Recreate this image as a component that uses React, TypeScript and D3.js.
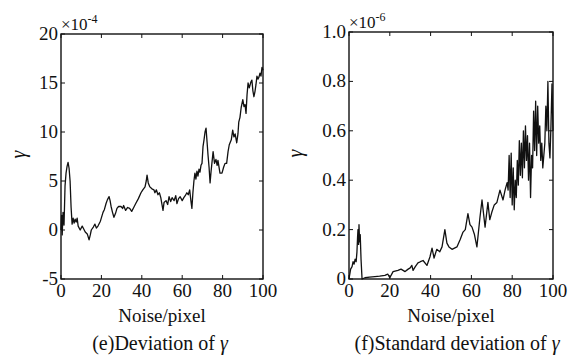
import React from 'react';
import * as d3 from 'd3';

// (e) deviation of gamma, values in units of 1e-4
const devX = [0, 0.3, 0.6, 1, 1.5, 2, 2.5, 3, 3.5, 4, 4.5, 5, 5.5, 6, 6.5, 7, 7.5, 8, 8.5, 9.5, 10.5, 11, 12, 13, 13.9, 14.5, 15, 16, 16.8, 17.5, 18.3, 19.5, 20.8, 21.5, 22.3, 23, 23.8, 24.3, 24.8, 25.5, 26.2, 27, 27.7, 28.5, 29.7, 30.5, 31, 32, 33, 34, 35, 36, 37, 38.3, 39.6, 40.5, 41.6, 42.2, 42.6, 43.2, 44, 45, 46, 46.5, 47.2, 48, 48.7, 49.4, 50, 50.5, 51, 52, 52.8, 53.5, 54.3, 55, 56, 56.8, 57.4, 58.2, 59, 60, 60.8, 61.5, 62.3, 63, 63.7, 64.3, 64.8, 65.3, 65.8, 66.3, 66.8, 67.3, 67.8, 68.3, 68.8, 69.3, 69.8, 70.3, 70.8, 71.3, 71.8, 72.3, 72.8, 73.3, 73.8, 74.3, 74.7, 75.3, 76, 76.7, 77.3, 77.7, 78.7, 79.7, 80.5, 81.2, 82, 82.7, 83.3, 83.7, 84.3, 85, 85.6, 86.2, 87, 87.6, 88, 88.6, 89.2, 90, 90.6, 91.1, 91.6, 92.1, 92.6, 93.2, 94, 94.5, 95, 95.5, 96, 96.5, 97, 97.5, 98, 98.5, 99, 99.5, 100];
const devY = [0, 1.5, -0.5, 1.8, 0.5, 4.5, 5.8, 6.5, 6.9, 6.3, 5.0, 2.3, 0.6, 1.2, 0.7, 1.1, 0.8, 1.2, 0.4, 0.0, 0.4, 0.2, -0.2, -0.4, -1.0, -0.5, 0, 0.3, 0.6, 0.2, 0.4, 0.9, 1.8, 2.1, 2.7, 3.1, 3.4, 3.0, 2.4, 1.8, 1.3, 1.7, 2.2, 2.4, 2.4, 2.2, 2.5, 2.0, 2.3, 2.2, 1.9, 2.3, 2.7, 3.2, 3.8, 4.1, 4.4, 5.0, 5.6, 4.8, 4.4, 4.2, 4.1, 3.8, 4.1, 3.6, 3.8, 3.3, 2.6, 2.0, 2.8, 3.0, 2.6, 3.4, 2.9, 3.3, 3.0, 3.5, 2.7, 3.2, 3.4, 3.0, 3.3, 3.5, 3.8, 3.6, 4.1, 3.0, 2.2, 3.8, 5.0, 5.8, 5.2, 6.0, 5.5, 6.2, 5.9, 6.6, 6.8, 8.5, 9.2, 10.0, 10.4, 9.0, 7.6, 6.4, 4.8, 6.0, 6.8, 8.0, 6.8, 7.2, 6.6, 7.1, 5.8, 5.8, 6.4, 6.8, 6.8, 8.0, 8.7, 8.9, 9.2, 10.2, 9.5, 9.8, 8.9, 9.8, 11.0, 11.5, 12.5, 13.3, 12.6, 12.8, 11.9, 13.8, 15.0, 14.5, 15.1, 15.3, 14.2, 13.6, 14.1, 14.8, 15.7, 15.4, 15.6, 16.0, 15.7, 16.6, 16.3];

// (f) standard deviation of gamma, values in units of 1e-6
const stdX = [0, 0.8, 1.5, 2, 2.5, 3, 3.5, 3.9, 4.2, 4.4, 4.7, 4.9, 5.2, 5.5, 5.9, 6.4, 7.8, 10, 12.7, 15, 17.6, 19, 20, 21.6, 24, 25.5, 27.5, 29, 30, 30.8, 31.4, 32.5, 33.8, 35, 36.3, 38.2, 39.7, 40.7, 41.7, 43, 44.5, 45.6, 47, 48, 49, 50.5, 52.9, 54.5, 55.9, 57, 58.3, 59.3, 60.3, 61.5, 62.7, 64.2, 65.2, 66.7, 68.1, 69, 70, 71.2, 72.5, 74, 75.5, 76.5, 77.5, 78, 78.5, 79, 79.5, 80, 80.5, 81, 81.5, 82, 82.5, 83, 83.5, 84, 84.5, 85, 85.5, 86, 86.5, 87, 87.5, 88, 88.5, 89, 89.5, 90, 90.5, 91, 91.5, 92, 92.5, 93, 93.5, 94, 94.5, 95, 95.5, 96, 96.5, 97, 97.5, 98, 98.5, 99, 99.5, 100];
const stdY = [0, 0.04, 0.05, 0.07, 0.06, 0.08, 0.07, 0.11, 0.17, 0.2, 0.14, 0.22, 0.15, 0.18, 0.08, 0, 0.005, 0.008, 0.01, 0.012, 0.015, 0.02, 0.005, 0.03, 0.035, 0.04, 0.03, 0.04, 0.045, 0.055, 0.035, 0.05, 0.065, 0.07, 0.075, 0.055, 0.09, 0.125, 0.085, 0.12, 0.11, 0.13, 0.2, 0.145, 0.13, 0.12, 0.13, 0.16, 0.19, 0.2, 0.265, 0.22, 0.21, 0.18, 0.13, 0.25, 0.32, 0.21, 0.31, 0.24, 0.27, 0.3, 0.31, 0.36, 0.32, 0.36, 0.39, 0.36, 0.5, 0.33, 0.51, 0.3, 0.45, 0.28, 0.4, 0.33, 0.48, 0.38, 0.56, 0.42, 0.55, 0.41, 0.6, 0.45, 0.62, 0.48, 0.58, 0.4, 0.55, 0.33, 0.5, 0.45, 0.68, 0.52, 0.72, 0.5, 0.7, 0.55, 0.62, 0.48, 0.55, 0.45, 0.5, 0.55, 0.7, 0.6, 0.8, 0.55, 0.49, 0.62, 0.79, 0.6];

const xTicks = [0, 20, 40, 60, 80, 100];
const devTicks = [-5, 0, 5, 10, 15, 20];
const stdTicks = [0, 0.2, 0.4, 0.6, 0.8, 1.0];

const font = '"Liberation Serif", "Times New Roman", serif';

type PanelProps = {
  xs: number[];
  ys: number[];
  left: number;
  right: number;
  top: number;
  bottom: number;
  yDomain: [number, number];
  yTicks: number[];
  fmt: (d: number) => string;
  exp: string;
  ylabelX: number;
  caption: React.ReactNode;
  captionX: number;
};

const Panel = ({ xs, ys, left, right, top, bottom, yDomain, yTicks, fmt, exp, ylabelX, caption, captionX }: PanelProps) => {
  const x = d3.scaleLinear().domain([0, 100]).range([left, right]);
  const y = d3.scaleLinear().domain(yDomain).range([bottom, top]);
  const line = d3.line<number>()
    .x((_, i) => x(xs[i]))
    .y(d => y(d));
  const tk = 4;

  return (
    <g style={{ fontFamily: font }} fill="#111">
      <path d={line(ys) || ''} fill="none" stroke="#111" strokeWidth={1.3} strokeLinejoin="round" />
      <rect x={left} y={top} width={right - left} height={bottom - top} fill="none" stroke="#111" strokeWidth={1.4} />
      {xTicks.map(t => (
        <g key={'x' + t}>
          <line x1={x(t)} x2={x(t)} y1={bottom} y2={bottom - tk} stroke="#111" />
          <line x1={x(t)} x2={x(t)} y1={top} y2={top + tk} stroke="#111" />
          <text x={x(t)} y={bottom + 18} textAnchor="middle" fontSize={19}>{t}</text>
        </g>
      ))}
      {yTicks.map(t => (
        <g key={'y' + t}>
          <line x1={left} x2={left + tk} y1={y(t)} y2={y(t)} stroke="#111" />
          <line x1={right} x2={right - tk} y1={y(t)} y2={y(t)} stroke="#111" />
          <text x={left - 3} y={y(t) + 6} textAnchor="end" fontSize={19}>{fmt(t)}</text>
        </g>
      ))}
      <text x={left} y={top - 4} fontSize={17}>
        ×10<tspan dy={-7} fontSize={12}>{exp}</tspan>
      </text>
      <text transform={`translate(${ylabelX},${(top + bottom) / 2 - 2}) rotate(-90)`} textAnchor="middle" fontSize={20} fontStyle="italic">γ</text>
      <text x={(left + right) / 2} y={bottom + 43} textAnchor="middle" fontSize={19}>Noise/pixel</text>
      <text x={captionX} y={bottom + 71} textAnchor="middle" fontSize={20}>{caption}</text>
    </g>
  );
};

export default function App() {
  return (
    <svg width={571} height={356} style={{ position: 'absolute', left: 0, top: 0, background: '#fff' }}>
      <Panel
        xs={devX}
        ys={devY}
        left={61}
        right={263}
        top={34}
        bottom={279}
        yDomain={[-5, 20]}
        yTicks={devTicks}
        fmt={d => String(d)}
        exp="-4"
        ylabelX={25}
        caption={<>(e)Deviation of <tspan fontStyle="italic">γ</tspan></>}
        captionX={160}
      />
      <Panel
        xs={stdX}
        ys={stdY}
        left={349}
        right={553}
        top={32}
        bottom={279}
        yDomain={[0, 1]}
        yTicks={stdTicks}
        fmt={d => (d === 0 ? '0' : d.toFixed(1))}
        exp="-6"
        ylabelX={302}
        caption={<>(f)Standard deviation of <tspan fontStyle="italic">γ</tspan></>}
        captionX={457}
      />
    </svg>
  );
}
